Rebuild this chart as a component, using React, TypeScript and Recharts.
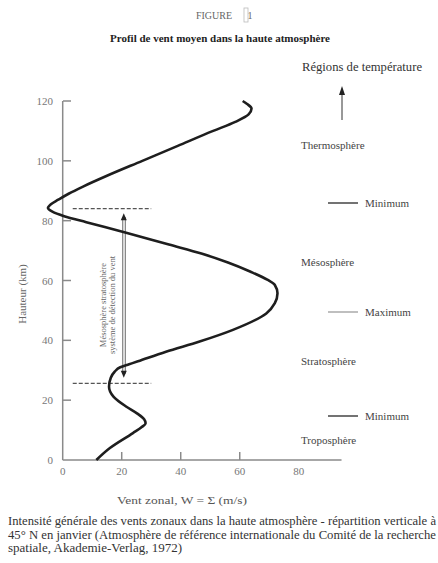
import React from 'react';
import { LineChart, Line, XAxis, YAxis, ReferenceLine } from 'recharts';

// hauteur (km) et vent zonal (m/s)
const heights = [0, 4, 9, 11, 12.3, 13.6, 15.5, 17.8, 21.2, 24.5, 27.5, 29.5, 31, 32, 33, 36.2, 39.6, 43.5, 49, 52.4, 55.7, 58.5, 60.2, 63, 66, 69, 72, 76, 79.5, 81.5, 83, 84.2, 85.5, 87, 89, 91.4, 95, 100, 105, 110, 113, 115.5, 117.5, 119, 120];
const winds = [11.4, 16, 23.8, 26.8, 28.1, 27.6, 25.3, 21.6, 17.2, 15.7, 16.3, 17.6, 19.5, 22.5, 25.5, 35, 46.4, 57.7, 69, 71.9, 72.8, 71.9, 69.5, 63.5, 56, 47, 36, 21.5, 8, 0.5, -3.5, -5, -4, -1.5, 2, 6.9, 15, 27, 39, 51, 58.5, 63, 64, 62.5, 61];

const yTicks = [0, 20, 40, 60, 80, 100, 120];
const xTicks = [0, 20, 40, 60, 80];
const xTickMarks = [20, 40, 60];

// niveaux des lignes pointillées (km)
const boundaryTop = 84;
const boundaryBottom = 25.6;

const regions = [
    { label: 'Thermosphère', y: 149 },
    { label: 'Mésosphère', y: 266 },
    { label: 'Stratosphère', y: 365 },
    { label: 'Troposphère', y: 444 },
];
const extrema = [
    { label: 'Minimum', y: 203, color: '#444' },
    { label: 'Maximum', y: 312, color: '#aaa' },
    { label: 'Minimum', y: 416, color: '#444' },
];

const captionLines = [
    'Intensité générale des vents zonaux dans la haute atmosphère - répartition verticale à',
    '45° N en janvier (Atmosphère de référence internationale du Comité de la recherche',
    'spatiale, Akademie-Verlag, 1972)',
];
const captionWidths = [428, 428, 174];

const data = heights.map((h, i) => ({ h, w: winds[i] }));

const FONT = '"Liberation Serif", "DejaVu Serif", serif';
const AXIS = '#8a8a8a';

const YTick: React.FC<any> = ({ x, y, payload }) => (
    <g>
        {payload.value !== 0 && <line x1={x + 18} x2={x + 26} y1={y} y2={y} stroke={AXIS} strokeWidth={1.5} />}
        <text x={x + 8} y={y + 4} textAnchor="end" fontSize={11} fill="#777" style={{ fontFamily: FONT }}>{payload.value}</text>
    </g>
);

const XTick: React.FC<any> = ({ x, y, payload }) => (
    <g>
        {xTickMarks.includes(payload.value) && <line x1={x} x2={x} y1={y} y2={y - 8} stroke={AXIS} strokeWidth={1.5} />}
        <text x={x} y={y + 15} textAnchor="middle" fontSize={11} fill="#777" style={{ fontFamily: FONT }}>{payload.value}</text>
    </g>
);

const DoubleArrow: React.FC<any> = ({ x1, y1, x2, y2 }) => {
    const top = Math.min(y1, y2);
    const bottom = Math.max(y1, y2);
    return (
        <g>
            <line x1={x1 - 1} x2={x2 - 1} y1={top + 4} y2={bottom - 4} stroke="#666" strokeWidth={1} />
            <line x1={x1 + 1.5} x2={x2 + 1.5} y1={top + 4} y2={bottom - 4} stroke="#666" strokeWidth={1} />
            <path d={`M${x1} ${top} L${x1 - 3} ${top + 7} L${x1 + 3} ${top + 7} Z`} fill="#222" />
            <path d={`M${x1} ${bottom} L${x1 - 3} ${bottom - 7} L${x1 + 3} ${bottom - 7} Z`} fill="#222" />
        </g>
    );
};

export default function App() {
    const t = { fontFamily: FONT };
    return (
        <div style={{ position: 'absolute', left: 0, top: 0, width: 438, height: 563, background: '#fff', overflow: 'hidden', fontFamily: FONT }}>
            <LineChart
                width={438}
                height={563}
                layout="vertical"
                data={data}
                margin={{ top: 101, right: 95, bottom: 73, left: 0 }}
            >
                <XAxis
                    type="number"
                    domain={[-6, 95]}
                    ticks={xTicks}
                    height={30}
                    axisLine={false}
                    tickLine={false}
                    tickSize={0}
                    tickMargin={0}
                    tick={(p: any) => <XTick {...p} />}
                />
                <YAxis
                    type="number"
                    dataKey="h"
                    domain={[0, 120]}
                    ticks={yTicks}
                    reversed
                    width={45}
                    interval={0}
                    axisLine={false}
                    tickLine={false}
                    tickSize={0}
                    tickMargin={0}
                    tick={(p: any) => <YTick {...p} />}
                />
                <ReferenceLine segment={[{ x: 0, y: 0 }, { x: 0, y: 120 }]} stroke={AXIS} strokeWidth={1.5} />
                <ReferenceLine segment={[{ x: 0, y: 0 }, { x: 94.5, y: 0 }]} stroke={AXIS} strokeWidth={1.5} />
                <ReferenceLine segment={[{ x: 3.4, y: boundaryTop }, { x: 30, y: boundaryTop }]} stroke="#555" strokeWidth={1.2} strokeDasharray="4 2" />
                <ReferenceLine segment={[{ x: 3.4, y: boundaryBottom }, { x: 30, y: boundaryBottom }]} stroke="#555" strokeWidth={1.2} strokeDasharray="4 2" />
                <ReferenceLine segment={[{ x: 20.7, y: 27.5 }, { x: 20.7, y: 82.5 }]} shape={(p: any) => <DoubleArrow {...p} />} />
                <Line
                    type="monotone"
                    dataKey="w"
                    stroke="#1e1e1e"
                    strokeWidth={2.6}
                    dot={false}
                    isAnimationActive={false}
                />
            </LineChart>

            <svg width={438} height={563} style={{ position: 'absolute', left: 0, top: 0, pointerEvents: 'none', fontFamily: FONT }}>
                <text x={214} y={19} textAnchor="middle" fontSize={10} fill="#666" style={t}>FIGURE</text>
                <rect x={244} y={8} width={4} height={14} fill="none" stroke="#bbb" strokeWidth={0.8} />
                <text x={250} y={19} textAnchor="middle" fontSize={10} fill="#666" style={t}>1</text>
                <text x={220} y={42} textAnchor="middle" fontSize={11} fontWeight="bold" fill="#222" style={t}>Profil de vent moyen dans la haute atmosphère</text>

                <text x={362} y={71} textAnchor="middle" fontSize={11.5} fill="#333" style={t} textLength={120} lengthAdjust="spacingAndGlyphs">Régions de température</text>
                <line x1={342} x2={342} y1={120} y2={93} stroke="#333" strokeWidth={1} />
                <path d="M342 86 L339 95 L345 95 Z" fill="#222" />

                {regions.map((r) => (
                    <text key={r.label} x={301} y={r.y} fontSize={11} fill="#444" style={t}>{r.label}</text>
                ))}
                {extrema.map((e, i) => (
                    <g key={i}>
                        <line x1={328} x2={358} y1={e.y} y2={e.y} stroke={e.color} strokeWidth={1.5} />
                        <text x={365} y={e.y + 4} fontSize={11} fill="#444" style={t}>{e.label}</text>
                    </g>
                ))}

                <text transform="translate(26 294) rotate(-90)" textAnchor="middle" fontSize={11} fill="#666" style={t}>Hauteur (km)</text>
                <text transform="translate(106 305) rotate(-90)" textAnchor="middle" fontSize={8.5} fill="#666" style={t}>Mésosphère stratosphère</text>
                <text transform="translate(115 305) rotate(-90)" textAnchor="middle" fontSize={8.5} fill="#666" style={t}>système de détection du vent</text>

                <text x={182} y={504} textAnchor="middle" fontSize={11} fill="#555" style={t} textLength={130} lengthAdjust="spacingAndGlyphs">Vent zonal, W  = Σ (m/s)</text>

                {captionLines.map((line, i) => (
                    <text
                        key={i}
                        x={8}
                        y={525 + i * 13.5}
                        fontSize={11.5}
                        fill="#333"
                        style={t}
                        textLength={captionWidths[i]}
                        lengthAdjust="spacingAndGlyphs"
                    >
                        {line}
                    </text>
                ))}
            </svg>
        </div>
    );
}
